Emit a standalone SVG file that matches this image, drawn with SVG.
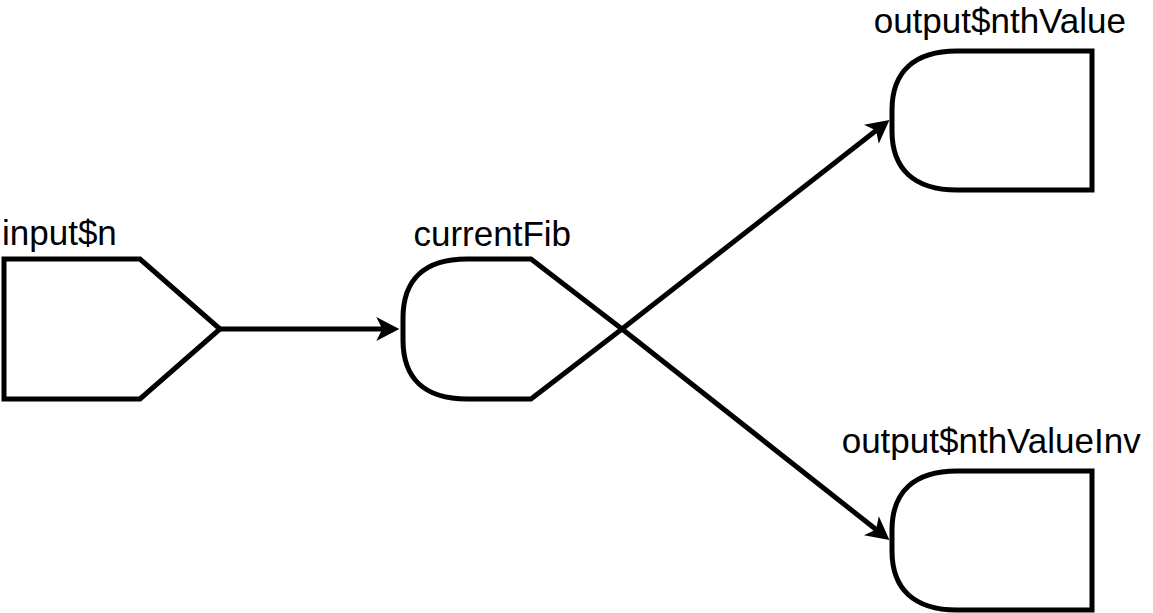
<svg xmlns="http://www.w3.org/2000/svg" width="1153" height="613" viewBox="0 0 1153 613">
  <style>
    .shape { fill: #ffffff; stroke: #000000; stroke-width: 5; stroke-linejoin: miter; }
    .label { font-family: "Liberation Sans", Arial, sans-serif; font-size: 35px; fill: #000000; }
    .edge { fill: none; stroke: #000000; stroke-width: 5; }
  </style>
  <defs>
    <marker id="arrow" markerUnits="userSpaceOnUse" markerWidth="30" markerHeight="30" refX="6" refY="0" viewBox="-2 -15 30 30" orient="auto" overflow="visible">
      <path d="M0,-12 L23,0 L0,12 L6,0 Z" fill="#000000" stroke="none"/>
    </marker>
  </defs>
  <rect width="1153" height="613" fill="#ffffff"/>

  <g id="node-input-n">
    <polygon class="shape" points="4,259 140,259 220,329 140,399 4,399"/>
    <text class="label" x="2" y="245">input$n</text>
  </g>

  <g id="node-currentFib">
    <path class="shape" d="M467,259 L531,259 L622,329 L531,399 L467,399 C424,399 403,378 403,340 L403,318 C403,280 424,259 467,259 Z"/>
    <text class="label" x="413.5" y="246">currentFib</text>
  </g>

  <g id="node-output-nthValue">
    <path class="shape" d="M957,51 L1092,51 L1092,190 L957,190 C914,190 892,169 892,131 L892,110 C892,72 914,51 957,51 Z"/>
    <text class="label" x="873.7" y="33">output$nthValue</text>
  </g>

  <g id="node-output-nthValueInv">
    <path class="shape" d="M957,471 L1092,471 L1092,610 L957,610 C914,610 892,589 892,551 L892,530 C892,492 914,471 957,471 Z"/>
    <text class="label" x="841.7" y="453">output$nthValueInv</text>
  </g>

  <g id="connectors">
    <path class="edge" d="M220,329 L382.3,329" marker-end="url(#arrow)"/>
    <path class="edge" d="M622,329 L876.1,130.5" marker-end="url(#arrow)"/>
    <path class="edge" d="M622,329 L876.1,529.5" marker-end="url(#arrow)"/>
  </g>
</svg>
